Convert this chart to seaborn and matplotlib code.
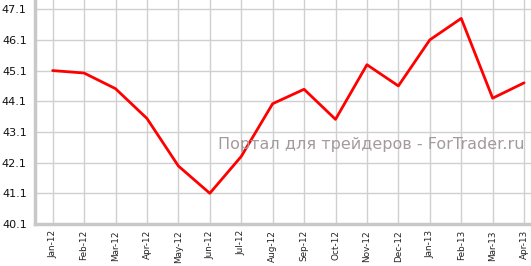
import matplotlib
matplotlib.use("Agg")
import matplotlib.pyplot as plt
import seaborn as sns
import pandas as pd

months = ["Jan-12", "Feb-12", "Mar-12", "Apr-12", "May-12", "Jun-12", "Jul-12", "Aug-12",
          "Sep-12", "Oct-12", "Nov-12", "Dec-12", "Jan-13", "Feb-13", "Mar-13", "Apr-13"]
values = [45.1, 45.02, 44.51, 43.54, 41.99, 41.1, 42.3, 44.02,
          44.49, 43.51, 45.29, 44.6, 46.1, 46.8, 44.2, 44.7]
yticks = [40.1, 41.1, 42.1, 43.1, 44.1, 45.1, 46.1, 47.1]
watermark = "Портал для трейдеров - ForTrader.ru"

df = pd.DataFrame({"x": range(len(months)), "v": values})

sns.set_theme(style="white")
plt.rcParams['font.family'] = ['DejaVu Sans']

fig = plt.figure(figsize=(5.31, 2.66), dpi=100)
ax = fig.add_axes([0.066, 0.158, 0.934, 0.842])

sns.lineplot(data=df, x="x", y="v", ax=ax, color="#ff0000", linewidth=2)

ax.set_xlim(-0.56, 15.22)
ax.set_ylim(40.1, 47.4)
ax.set_xticks(range(len(months)))
ax.set_xticklabels(months, rotation=90, fontsize=6.4, color="#222222")
ax.set_yticks(yticks)
ax.set_yticklabels([f"{t:.1f}" for t in yticks], fontsize=8, color="#111111")
ax.grid(True, color="#d0d0d0", linewidth=1)
ax.set_axisbelow(True)
ax.set_xlabel("")
ax.set_ylabel("")
for s in ["top", "right"]:
    ax.spines[s].set_visible(False)
for s in ["left", "bottom"]:
    ax.spines[s].set_color("#c8c8c8")
    ax.spines[s].set_linewidth(2.5)
ax.tick_params(axis="y", length=4, width=1, color="#c8c8c8", pad=2)
ax.tick_params(axis="x", length=3, width=1, color="#c8c8c8", pad=1.5)

ax.text(0.987, 0.353, watermark, transform=ax.transAxes, ha="right", va="center",
        fontsize=11.5, color="#a39a9a")

fig.savefig("out.png", dpi=100)
